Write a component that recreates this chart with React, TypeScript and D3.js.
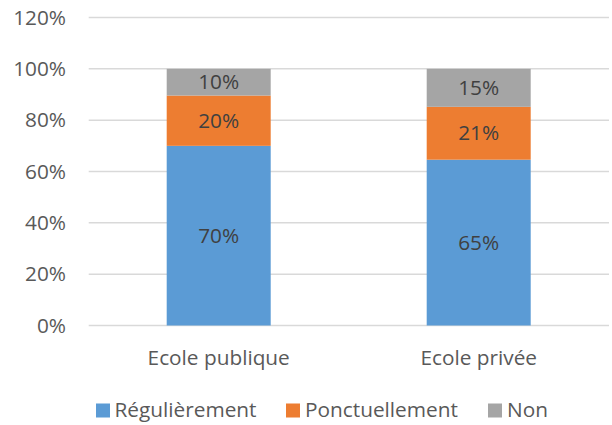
import React from "react";
import * as d3 from "d3";

const categories = ["Ecole publique", "Ecole privée"];
const seriesNames = ["Régulièrement", "Ponctuellement", "Non"];
const regulierement = [0.70, 0.646];
const ponctuellement = [0.196, 0.206];
const non = [0.104, 0.148];
const yTicks = [0, 0.2, 0.4, 0.6, 0.8, 1.0, 1.2];
const colors = ["#5B9BD5", "#ED7D31", "#A5A5A5"];

const W = 612;
const H = 425;
const FONT = "'Open Sans', sans-serif";
const FS = 20.8;

export default function App() {
  const x = d3.scaleBand<string>().domain(categories).range([88.7, 608.7]).paddingInner(0.6).paddingOuter(0.3);
  const y = d3.scaleLinear().domain([0, 1.2]).range([325.5, 17.5]);
  const table = categories.map((c, i) => ({
    cat: c,
    r: regulierement[i],
    p: ponctuellement[i],
    n: non[i],
  }));
  const stack = d3.stack<any>().keys(["r", "p", "n"])(table);
  const fmt = (v: number) => `${Math.round(v * 100)}%`;

  const legendItems = [
    { name: seriesNames[0], sq: 96, tx: 114.5 },
    { name: seriesNames[1], sq: 286, tx: 305 },
    { name: seriesNames[2], sq: 488, tx: 507 },
  ];

  return (
    <svg
      width={W}
      height={H}
      style={{ position: "absolute", left: 0, top: 0, background: "#fff" }}
      fontFamily={FONT}
    >
      {yTicks.map((t) => (
        <g key={t}>
          <line x1={88.7} x2={609} y1={y(t)} y2={y(t)} stroke="#d9d9d9" strokeWidth={1.5} />
          <text x={66} y={y(t) + 7} textAnchor="end" fontSize={FS} fill="#595959">
            {fmt(t)}
          </text>
        </g>
      ))}
      {stack.map((layer, si) =>
        layer.map((d, ci) => {
          const x0 = x(categories[ci])!;
          const y0 = y(d[1]);
          const h = y(d[0]) - y(d[1]);
          return (
            <g key={`${si}-${ci}`}>
              <rect x={x0} y={y0} width={x.bandwidth()} height={h} fill={colors[si]} />
              <text
                x={x0 + x.bandwidth() / 2}
                y={y0 + h / 2 + 7}
                textAnchor="middle"
                fontSize={FS}
                fill="#404040"
              >
                {fmt(d[1] - d[0])}
              </text>
            </g>
          );
        })
      )}
      {categories.map((c) => (
        <text
          key={c}
          x={x(c)! + x.bandwidth() / 2}
          y={365}
          textAnchor="middle"
          fontSize={FS}
          fill="#595959"
        >
          {c}
        </text>
      ))}
      {legendItems.map((l, i) => (
        <g key={l.name}>
          <rect x={l.sq} y={403.5} width={14} height={14} fill={colors[i]} />
          <text x={l.tx} y={417} fontSize={FS} fill="#595959">
            {l.name}
          </text>
        </g>
      ))}
    </svg>
  );
}
